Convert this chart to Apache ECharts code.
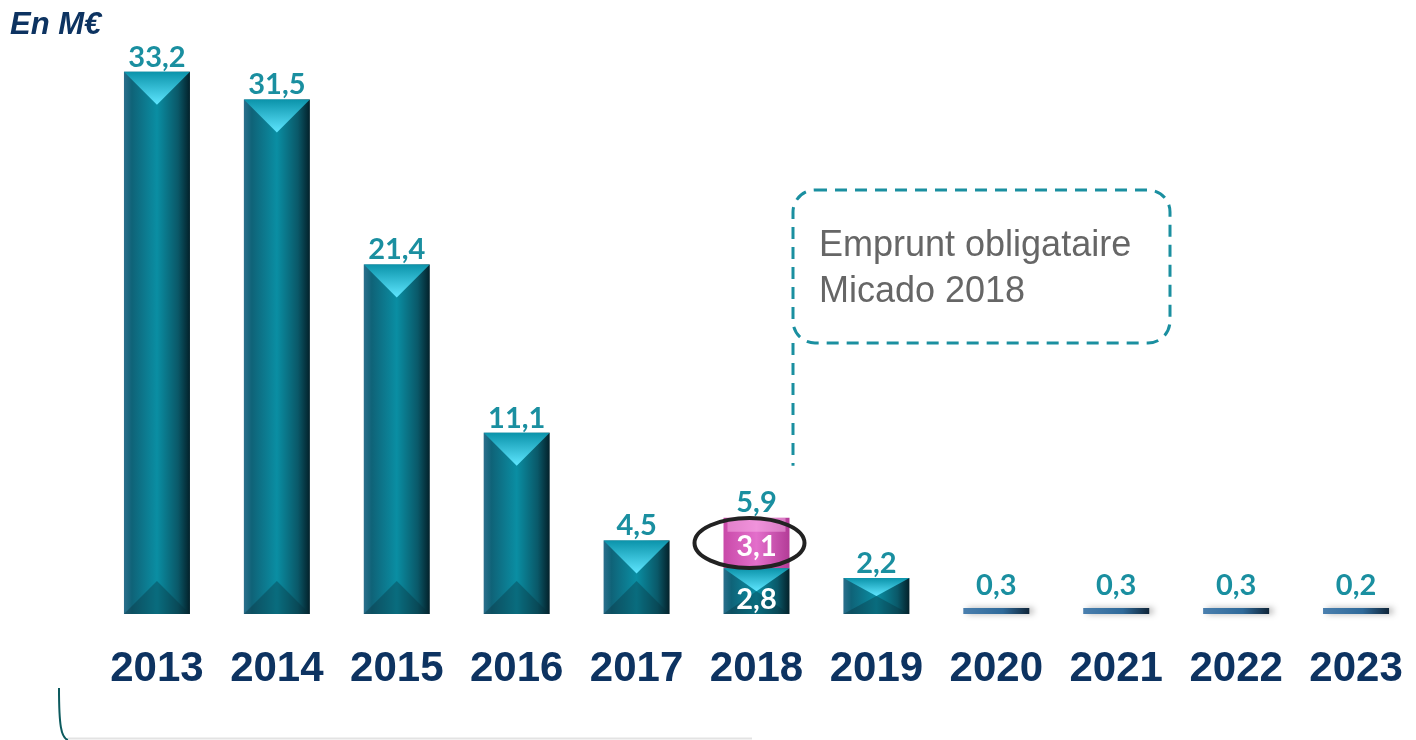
<!DOCTYPE html>
<html>
<head>
<meta charset="utf-8">
<script src="https://cdn.jsdelivr.net/npm/echarts@6/dist/echarts.min.js"></script>
<style>
html, body { margin: 0; padding: 0; background: #fff; }
#chart { width: 1416px; height: 740px; }
</style>
</head>
<body>
<div id="chart"></div>
<script>
// données (M€)
var years = ['2013', '2014', '2015', '2016', '2017', '2018', '2019', '2020', '2021', '2022', '2023'];
var baseValues = [33.2, 31.5, 21.4, 11.1, 4.5, 2.8, 2.2, 0.3, 0.3, 0.3, 0.2];
var micadoValues = [null, null, null, null, null, 3.1, null, null, null, null, null];
var micadoYear = '2018';
var noteText = 'Emprunt obligataire\nMicado 2018';

var totals = baseValues.map(function (v, i) { return +(v + (micadoValues[i] || 0)).toFixed(1); });
var fmt = function (v) { return String(v).replace('.', ','); };

var teal = '#1a8fa0';
var barW = 66;
var pxPerUnit = 588 / 36;
var labelFont = { fontFamily: 'Lato', fontWeight: 'bold', fontSize: 29 };

var tealFill = new echarts.graphic.LinearGradient(0, 0, 1, 0, [
  { offset: 0, color: '#2b6f8c' },
  { offset: 0.12, color: '#0f6378' },
  { offset: 0.5, color: '#0a8ea3' },
  { offset: 0.82, color: '#0a5868' },
  { offset: 1, color: '#03212a' }
]);
var thinFill = new echarts.graphic.LinearGradient(0, 0, 1, 0, [
  { offset: 0, color: '#4a7fae' },
  { offset: 0.6, color: '#2f6a9a' },
  { offset: 1, color: '#10263a' }
]);
var pinkFill = new echarts.graphic.LinearGradient(0, 0, 1, 0, [
  { offset: 0, color: '#c94aa9' },
  { offset: 0.5, color: '#e36fcb' },
  { offset: 1, color: '#b33c97' }
]);

var bevelSize = function (v) {
  return [barW, Math.min(33, v * pxPerUnit / 2)];
};

var chart = echarts.init(document.getElementById('chart'));

chart.setOption({
  animation: false,
  grid: { left: 97, width: 1324, top: 26, height: 588 },
  xAxis: {
    type: 'category',
    data: years,
    axisLine: { show: false },
    axisTick: { show: false },
    axisLabel: {
      interval: 0,
      margin: 34,
      fontFamily: 'Liberation Sans',
      fontWeight: 'bold',
      fontSize: 42,
      color: '#0d3361'
    }
  },
  yAxis: { type: 'value', min: 0, max: 36, show: false, splitLine: { show: false } },
  series: [
    {
      name: 'base',
      type: 'bar',
      stack: 'total',
      barWidth: barW,
      barGap: '-100%',
      barMinHeight: 6,
      data: baseValues.map(function (v) {
        return v < 1 ? { value: v, itemStyle: { color: thinFill } } : v;
      }),
      itemStyle: {
        color: tealFill,
        shadowColor: 'rgba(0,0,0,0.3)', shadowBlur: 6, shadowOffsetX: 4
      },
      z: 2
    },
    {
      name: 'micado',
      type: 'bar',
      stack: 'total',
      barWidth: barW,
      barGap: '-100%',
      data: micadoValues,
      itemStyle: { color: pinkFill, shadowColor: 'rgba(0,0,0,0.25)', shadowBlur: 6, shadowOffsetX: 4 },
      z: 2
    },
    {
      // biseau haut
      name: 'bevelTop',
      type: 'pictorialBar',
      symbol: 'triangle',
      symbolRotate: 180,
      symbolPosition: 'end',
      data: baseValues.map(function (v) {
        return v < 1 ? null : { value: v, symbolSize: bevelSize(v) };
      }),
      itemStyle: {
        color: new echarts.graphic.LinearGradient(0, 0, 0, 1, [
          { offset: 0, color: '#5fe6ff' },
          { offset: 1, color: '#0b93aa' }
        ])
      },
      z: 3
    },
    {
      // biseau bas
      name: 'bevelBottom',
      type: 'pictorialBar',
      symbol: 'triangle',
      symbolPosition: 'start',
      data: baseValues.map(function (v) {
        return v < 1 ? null : { value: v, symbolSize: bevelSize(v) };
      }),
      itemStyle: { color: 'rgba(8,45,58,0.35)' },
      z: 3
    },
    {
      // biseau haut rose
      name: 'bevelPink',
      type: 'pictorialBar',
      symbol: 'rect',
      symbolPosition: 'end',
      data: totals.map(function (v, i) {
        return micadoValues[i] ? { value: v, symbolSize: [barW - 8, 14] } : null;
      }),
      itemStyle: { color: 'rgba(255,190,240,0.45)' },
      z: 3
    },
    {
      // étiquettes des totaux
      name: 'totaux',
      type: 'bar',
      barWidth: barW,
      barGap: '-100%',
      barMinHeight: 6,
      data: totals.map(function (v) {
        return v < 1 ? { value: v, label: { distance: 8 } } : v;
      }),
      itemStyle: { color: 'rgba(0,0,0,0)' },
      label: Object.assign({
        show: true, position: 'top', distance: 0, color: teal,
        formatter: function (p) { return fmt(p.value); }
      }, labelFont),
      z: 5
    },
    {
      // étiquettes internes 2018
      name: 'lblBase',
      type: 'bar',
      stack: 'lbl',
      barWidth: barW,
      barGap: '-100%',
      data: baseValues.map(function (v, i) { return micadoValues[i] ? v : null; }),
      itemStyle: { color: 'rgba(0,0,0,0)' },
      label: Object.assign({
        show: true, position: 'inside', offset: [0, 9], color: '#fff',
        formatter: function (p) { return fmt(p.value); }
      }, labelFont),
      z: 5
    },
    {
      name: 'lblMicado',
      type: 'bar',
      stack: 'lbl',
      barWidth: barW,
      barGap: '-100%',
      data: micadoValues,
      itemStyle: { color: 'rgba(0,0,0,0)' },
      label: Object.assign({
        show: true, position: 'inside', offset: [0, 4], color: '#fff',
        formatter: function (p) { return fmt(p.value); }
      }, labelFont),
      z: 5
    }
  ]
});

// annotations
var idx = years.indexOf(micadoYear);
var center = chart.convertToPixel({ gridIndex: 0 }, [micadoYear, baseValues[idx] + micadoValues[idx] / 2]);
var topTotal = chart.convertToPixel({ gridIndex: 0 }, [micadoYear, totals[idx]]);

chart.setOption({
  graphic: [
    {
      type: 'text', left: 10, top: 10,
      style: { text: 'En M€', fill: '#0d3361', font: 'italic bold 31px "Liberation Sans"' }
    },
    {
      type: 'ellipse', shape: { cx: center[0] - 7, cy: center[1], rx: 55, ry: 25 },
      style: { fill: 'none', stroke: '#222', lineWidth: 4 }, z: 10
    },
    {
      type: 'rect', shape: { x: 793, y: 190, width: 377, height: 153, r: 22 },
      style: { fill: 'none', stroke: teal, lineWidth: 3, lineDash: [12, 8] }
    },
    {
      type: 'line', shape: { x1: 793, y1: 343, x2: 793, y2: topTotal[1] - 52 },
      style: { stroke: teal, lineWidth: 3, lineDash: [12, 8] }
    },
    {
      type: 'text', left: 819, top: 223,
      style: { text: noteText, fill: '#666', font: '36px "Liberation Sans"', lineHeight: 46 }
    },
    {
      type: 'bezierCurve',
      shape: { x1: 59, y1: 688, cpx1: 59, cpy1: 725, cpx2: 61, cpy2: 738, x2: 68, y2: 740 },
      style: { stroke: '#0c5a5e', lineWidth: 2, fill: 'none' }
    },
    {
      type: 'line', shape: { x1: 68, y1: 738.5, x2: 752, y2: 738.5 },
      style: { stroke: '#e3e3e3', lineWidth: 2 }
    }
  ]
});
</script>
</body>
</html>
